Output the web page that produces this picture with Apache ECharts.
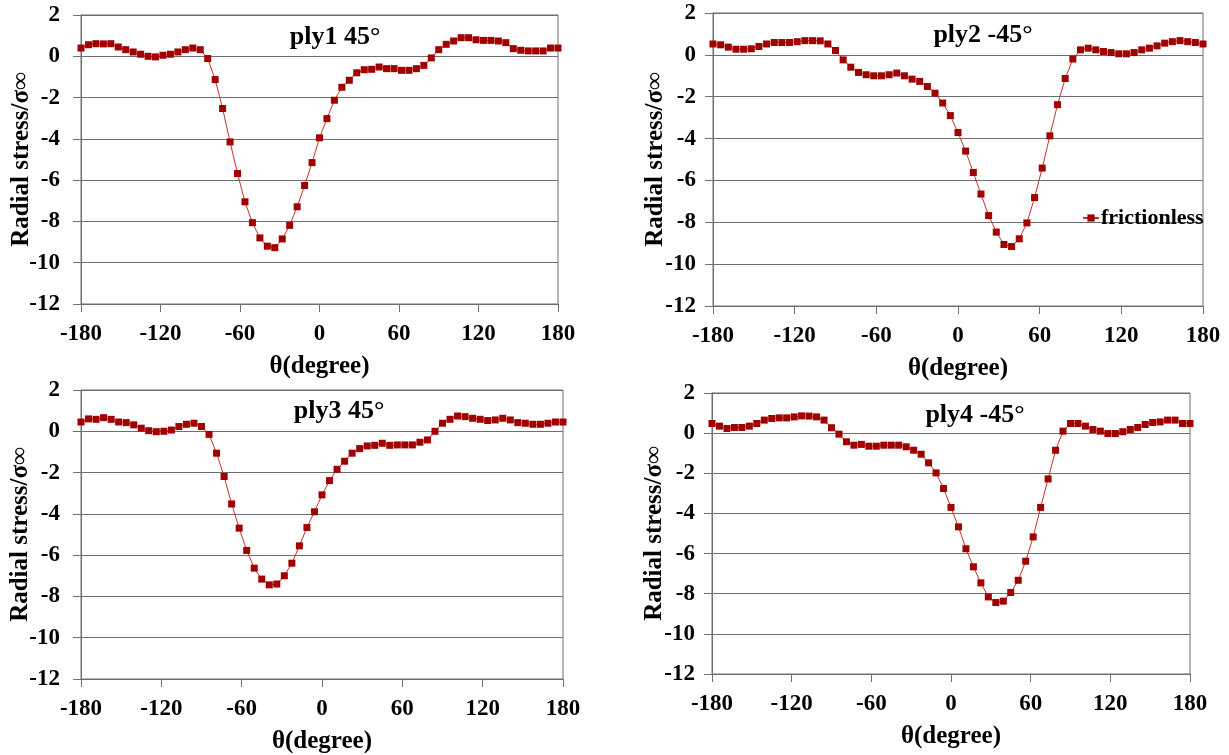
<!DOCTYPE html>
<html>
<head>
<meta charset="utf-8">
<script src="https://cdn.jsdelivr.net/npm/echarts@6/dist/echarts.min.js"></script>
<style>
html,body{margin:0;padding:0;background:#fff;}
#chart{width:1229px;height:755px;}
</style>
</head>
<body>
<div id="chart"></div>
<script>
// angle positions (degrees)
var theta = [-180, -174.375, -168.75, -163.125, -157.5, -151.875, -146.25, -140.625, -135, -129.375, -123.75, -118.125, -112.5, -106.875, -101.25, -95.625, -90, -84.375, -78.75, -73.125, -67.5, -61.875, -56.25, -50.625, -45, -39.375, -33.75, -28.125, -22.5, -16.875, -11.25, -5.625, 0, 5.625, 11.25, 16.875, 22.5, 28.125, 33.75, 39.375, 45, 50.625, 56.25, 61.875, 67.5, 73.125, 78.75, 84.375, 90, 95.625, 101.25, 106.875, 112.5, 118.125, 123.75, 129.375, 135, 140.625, 146.25, 151.875, 157.5, 163.125, 168.75, 174.375, 180];

var ply1 = [0.40, 0.56, 0.61, 0.60, 0.61, 0.45, 0.32, 0.21, 0.10, 0.00, -0.03, 0.05, 0.10, 0.21, 0.32, 0.40, 0.32, -0.11, -1.13, -2.53, -4.15, -5.68, -7.05, -8.06, -8.80, -9.20, -9.27, -8.85, -8.19, -7.29, -6.26, -5.15, -3.95, -3.02, -2.13, -1.50, -1.16, -0.80, -0.65, -0.63, -0.52, -0.60, -0.60, -0.68, -0.68, -0.60, -0.44, -0.08, 0.32, 0.58, 0.74, 0.90, 0.90, 0.80, 0.77, 0.77, 0.74, 0.66, 0.37, 0.29, 0.26, 0.26, 0.26, 0.40, 0.40];

var ply2 = [0.52, 0.48, 0.37, 0.27, 0.27, 0.29, 0.40, 0.52, 0.59, 0.59, 0.59, 0.63, 0.68, 0.68, 0.67, 0.52, 0.21, -0.24, -0.59, -0.84, -0.95, -1.00, -1.00, -0.95, -0.87, -1.00, -1.16, -1.27, -1.51, -1.83, -2.30, -2.90, -3.71, -4.60, -5.62, -6.65, -7.68, -8.47, -9.06, -9.16, -8.79, -8.03, -6.82, -5.41, -3.87, -2.38, -1.13, -0.20, 0.24, 0.32, 0.24, 0.16, 0.11, 0.05, 0.05, 0.11, 0.24, 0.32, 0.43, 0.56, 0.63, 0.68, 0.63, 0.59, 0.52];

var ply3 = [0.45, 0.60, 0.58, 0.66, 0.58, 0.45, 0.42, 0.31, 0.15, 0.03, -0.02, 0.00, 0.06, 0.23, 0.34, 0.39, 0.23, -0.15, -1.06, -2.19, -3.52, -4.69, -5.77, -6.63, -7.16, -7.44, -7.40, -7.00, -6.39, -5.55, -4.66, -3.90, -3.08, -2.39, -1.84, -1.45, -1.06, -0.84, -0.71, -0.68, -0.58, -0.68, -0.66, -0.66, -0.66, -0.53, -0.42, 0.00, 0.39, 0.58, 0.74, 0.71, 0.63, 0.58, 0.52, 0.55, 0.63, 0.55, 0.42, 0.39, 0.34, 0.34, 0.39, 0.45, 0.45];

var ply4 = [0.48, 0.35, 0.23, 0.28, 0.28, 0.35, 0.48, 0.65, 0.73, 0.76, 0.76, 0.81, 0.86, 0.85, 0.81, 0.65, 0.27, -0.05, -0.43, -0.60, -0.56, -0.65, -0.65, -0.60, -0.60, -0.60, -0.68, -0.85, -1.05, -1.48, -1.98, -2.76, -3.70, -4.67, -5.76, -6.66, -7.46, -8.16, -8.44, -8.37, -7.94, -7.33, -6.38, -5.17, -3.70, -2.28, -0.85, 0.10, 0.48, 0.48, 0.35, 0.18, 0.10, -0.02, -0.02, 0.07, 0.18, 0.28, 0.43, 0.53, 0.56, 0.65, 0.65, 0.48, 0.48];

var panelTitles = ['ply1 45\u00B0', 'ply2 -45\u00B0', 'ply3 45\u00B0', 'ply4 -45\u00B0'];
var xTitle = '\u03B8(degree)';
var yTitle = 'Radial stress/\u03C3\u221E';
var seriesName = 'frictionless';
var xTicks = {min: -180, max: 180, step: 60};
var yTicks = {min: -12, max: 2, step: 2};

var FONT = '"Liberation Serif", "Times New Roman", serif';
var allData = [ply1, ply2, ply3, ply4];

var grids = [
  {left: 81, top: 15, width: 477, height: 289},
  {left: 713, top: 13, width: 490, height: 293},
  {left: 81, top: 390, width: 482, height: 289},
  {left: 712, top: 393, width: 478, height: 281}
];
var yNameGaps = [59, 57, 60, 57];
var yLabelMargins = [21, 17, 21, 17];
var titlePos = [[330, 34], [978, 32], [334, 408], [970, 412]];

function pairs(ys) {
  return theta.map(function (t, i) { return [t, ys[i]]; });
}

var option = {
  backgroundColor: '#ffffff',
  animation: false,
  title: titlePos.map(function (p, i) {
    return {
      text: panelTitles[i], left: p[0], top: p[1] - 15, textAlign: 'center',
      textStyle: {fontFamily: FONT, fontWeight: 'bold', fontSize: 26, color: '#000'}
    };
  }),
  legend: {
    data: [seriesName], left: 1082, top: 207, padding: 0, itemWidth: 16, itemHeight: 9,
    itemGap: 0,
    textStyle: {fontFamily: FONT, fontWeight: 'bold', fontSize: 22, color: '#000', padding: [0, 0, 0, -3]}
  },
  grid: grids.map(function (g) {
    return {left: g.left, top: g.top, width: g.width, height: g.height, show: true,
      borderColor: '#6f6f6f', borderWidth: 1, backgroundColor: 'transparent', containLabel: false};
  }),
  xAxis: grids.map(function (g, i) {
    return {
      type: 'value', gridIndex: i, min: xTicks.min, max: xTicks.max, interval: xTicks.step,
      name: xTitle, nameLocation: 'middle', nameGap: 50, nameMoveOverlap: false,
      nameTextStyle: {fontFamily: FONT, fontWeight: 'bold', fontSize: 25, color: '#000'},
      axisLine: {show: true, onZero: false, lineStyle: {color: '#6f6f6f', width: 1}},
      axisTick: {show: true, length: 8, lineStyle: {color: '#6f6f6f'}},
      axisLabel: {margin: 19, fontFamily: FONT, fontWeight: 'bold', fontSize: 23, color: '#000'},
      splitLine: {show: false}
    };
  }),
  yAxis: grids.map(function (g, i) {
    return {
      type: 'value', gridIndex: i, min: yTicks.min, max: yTicks.max, interval: yTicks.step,
      name: yTitle, nameLocation: 'middle', nameGap: yNameGaps[i], nameRotate: 90,
      nameMoveOverlap: false,
      nameTextStyle: {fontFamily: FONT, fontWeight: 'bold', fontSize: 25, color: '#000',
        align: 'center', verticalAlign: 'middle'},
      axisLine: {show: true, onZero: false, lineStyle: {color: '#6f6f6f', width: 1}},
      axisTick: {show: true, length: 8, lineStyle: {color: '#6f6f6f'}},
      axisLabel: {margin: yLabelMargins[i], fontFamily: FONT, fontWeight: 'bold', fontSize: 23, color: '#000'},
      splitLine: {show: true, lineStyle: {color: '#6f6f6f', width: 1}}
    };
  }),
  series: allData.map(function (d, i) {
    return {
      name: seriesName, type: 'line', xAxisIndex: i, yAxisIndex: i,
      data: pairs(d), symbol: 'rect', symbolSize: 7, showAllSymbol: true,
      lineStyle: {color: '#C83030', width: 1},
      itemStyle: {color: '#A00000'}
    };
  })
};

var chart = echarts.init(document.getElementById('chart'), null, {renderer: 'canvas'});
chart.setOption(option);
</script>
</body>
</html>
